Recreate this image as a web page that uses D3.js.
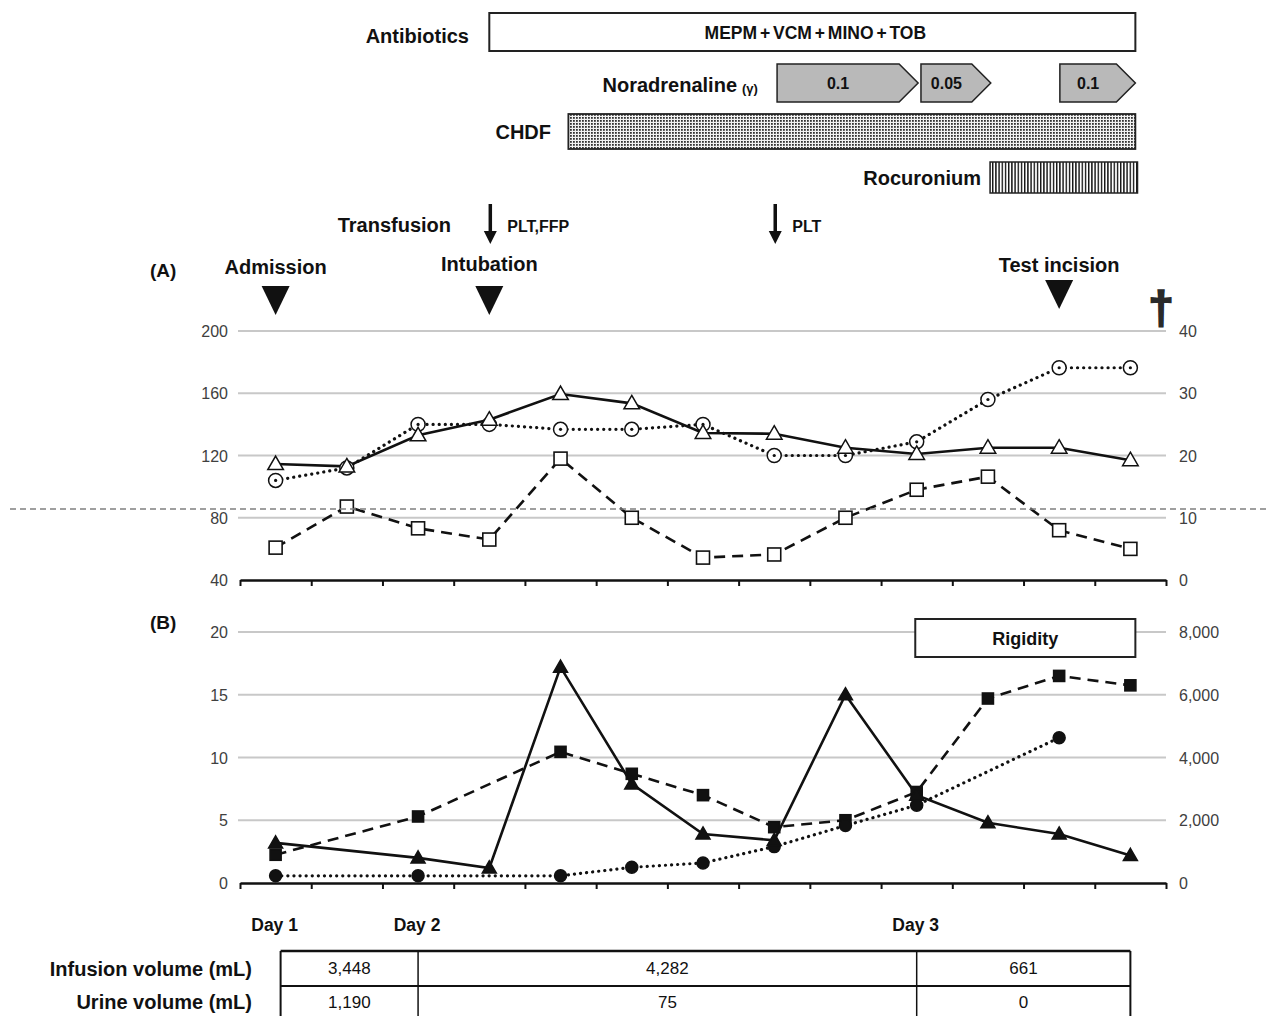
<!DOCTYPE html>
<html>
<head>
<meta charset="utf-8">
<script src="https://cdn.jsdelivr.net/npm/d3@7/dist/d3.min.js"></script>
<style>
body { margin: 0; background: #fff; }
text { font-family: "Liberation Sans", Arial, sans-serif; }
</style>
</head>
<body>
<div id="chart"></div>
<script>
// 13 time points shared by both panels
var timePoints = [0, 1, 2, 3, 4, 5, 6, 7, 8, 9, 10, 11, 12];

// panel (A)
var triA = [114.5, 113, 133, 143, 159.5, 153.5, 134.5, 134, 125, 121, 125, 125, 117];   // left axis
var circA = [16, 18, 25, 25, 24.2, 24.2, 25, 20, 20, 22.2, 29, 34.1, 34.1];            // right axis
var sqA = [5.2, 11.8, 8.3, 6.5, 19.5, 10, 3.6, 4.1, 10, 14.5, 16.6, 8, 5];             // right axis
var leftTicksA = [40, 80, 120, 160, 200];
var rightTicksA = [0, 10, 20, 30, 40];
var refLineA = 85.6;

// panel (B)
var triB = [3.2, null, 2.0, 1.2, 17.2, 7.9, 3.9, 3.4, 15.0, 7.0, 4.8, 3.9, 2.2];        // left axis
var sqB = [900, null, 2120, null, 4180, 3480, 2800, 1780, 2000, 2900, 5880, 6600, 6300]; // right axis
var circB = [230, null, 230, null, 230, 500, 640, 1160, 1830, 2480, null, 4630, null];   // right axis
var leftTicksB = [0, 5, 10, 15, 20];
var rightTicksB = [0, 2000, 4000, 6000, 8000];

// treatment timeline (in time point units)
var antibioticSpan = [3, 12.07];
var antibioticText = "MEPM + VCM + MINO + TOB";
var noradStart = [7.04, 9.06, 11.01];
var noradEnd = [9.02, 10.04, 12.07];
var noradDose = ["0.1", "0.05", "0.1"];
var chdfSpan = [4.11, 12.07];
var rocuroniumSpan = [10.03, 12.1];
var transfusionAt = [3, 7];
var transfusionText = ["PLT,FFP", "PLT"];
var eventAt = [0, 3, 11];
var eventText = ["Admission", "Intubation", "Test incision"];
var eventShift = [0, 0, -6];
var rigiditySpan = [8.98, 12.07];

// days and fluid balance table
var dayAt = [0, 2, 9];
var dayText = ["Day 1", "Day 2", "Day 3"];
var tableEdges = [0.07, 2, 9, 12];
var infusionVol = [3448, 4282, 661];
var urineVol = [1190, 75, 0];

var W = 1266, H = 1016;
var svg = d3.select("#chart").append("svg")
    .attr("width", W)
    .attr("height", H)
    .style("display", "block");

svg.append("rect").attr("width", W).attr("height", H).attr("fill", "#fff");

var x = d3.scaleLinear().domain([-0.5, 12.5]).range([240, 1166]);
var yA = d3.scaleLinear().domain([40, 200]).range([580, 331]);
var yAr = d3.scaleLinear().domain([0, 40]).range([580, 331]);
var yB = d3.scaleLinear().domain([0, 20]).range([883, 632]);
var yBr = d3.scaleLinear().domain([0, 8000]).range([883, 632]);

// patterns
var defs = svg.append("defs");
var dots = defs.append("pattern").attr("id", "dots")
    .attr("width", 3).attr("height", 3).attr("patternUnits", "userSpaceOnUse");
dots.append("rect").attr("width", 3).attr("height", 3).attr("fill", "#f2f2f2");
dots.append("rect").attr("width", 1.8).attr("height", 1.8).attr("fill", "#333");
var stripes = defs.append("pattern").attr("id", "stripes")
    .attr("width", 3.2).attr("height", 4).attr("patternUnits", "userSpaceOnUse");
stripes.append("rect").attr("width", 3.2).attr("height", 4).attr("fill", "#fff");
stripes.append("rect").attr("width", 1.4).attr("height", 4).attr("fill", "#111");

function boldText(tx, ty, str, size, anchor) {
    return svg.append("text")
        .attr("x", tx)
        .attr("y", ty)
        .attr("text-anchor", anchor || "start")
        .attr("font-size", size + "px")
        .attr("font-weight", "bold")
        .attr("fill", "#111")
        .text(str);
}

// ---- timeline on top ----
boldText(469, 43, "Antibiotics", 20, "end");
svg.append("rect")
    .attr("x", x(antibioticSpan[0]))
    .attr("y", 13)
    .attr("width", x(antibioticSpan[1]) - x(antibioticSpan[0]))
    .attr("height", 38)
    .attr("fill", "#fff")
    .attr("stroke", "#222")
    .attr("stroke-width", 2);
boldText((x(antibioticSpan[0]) + x(antibioticSpan[1])) / 2 + 3, 39, antibioticText, 17.5, "middle")
    .attr("word-spacing", "-2px");

boldText(737, 92, "Noradrenaline", 20, "end");
boldText(742, 93, "(γ)", 13, "start");
var head = 19;
noradStart.forEach(function(s, i) {
    var x0 = x(s), x1 = x(noradEnd[i]);
    var y0 = 64, y1 = 102, ym = (y0 + y1) / 2;
    svg.append("polygon")
        .attr("points", [[x0, y0], [x1 - head, y0], [x1, ym], [x1 - head, y1], [x0, y1]].join(" "))
        .attr("fill", "#b9b9b9")
        .attr("stroke", "#222")
        .attr("stroke-width", 1.5);
    boldText((x0 + x1 - head) / 2, 89, noradDose[i], 16, "middle");
});

boldText(551, 139, "CHDF", 20, "end");
svg.append("rect")
    .attr("x", x(chdfSpan[0]))
    .attr("y", 114)
    .attr("width", x(chdfSpan[1]) - x(chdfSpan[0]))
    .attr("height", 35)
    .attr("fill", "url(#dots)")
    .attr("stroke", "#222")
    .attr("stroke-width", 1.8);

boldText(981, 185, "Rocuronium", 20, "end");
svg.append("rect")
    .attr("x", x(rocuroniumSpan[0]))
    .attr("y", 162)
    .attr("width", x(rocuroniumSpan[1]) - x(rocuroniumSpan[0]))
    .attr("height", 31)
    .attr("fill", "url(#stripes)")
    .attr("stroke", "#222")
    .attr("stroke-width", 1.5);

// transfusion arrows
boldText(451, 232, "Transfusion", 20, "end");
transfusionAt.forEach(function(t, i) {
    var ax = x(t) + 1;
    svg.append("line")
        .attr("x1", ax).attr("x2", ax)
        .attr("y1", 204).attr("y2", 233)
        .attr("stroke", "#111")
        .attr("stroke-width", 3.5);
    svg.append("polygon")
        .attr("points", [[ax - 6.5, 231], [ax + 6.5, 231], [ax, 244]].join(" "))
        .attr("fill", "#111");
    boldText(ax + 17, 232, transfusionText[i], 16, "start");
});

// events
boldText(150, 277, "(A)", 19, "start");
eventAt.forEach(function(t, i) {
    var ex = x(t);
    var dy = eventShift[i];
    boldText(ex, 274 + (i == 1 ? -3.5 : 0) + (i == 2 ? -2.5 : 0), eventText[i], 20, "middle");
    svg.append("polygon")
        .attr("points", [[ex - 14, 286 + dy], [ex + 14, 286 + dy], [ex, 315 + dy]].join(" "))
        .attr("fill", "#111");
});

// dagger
svg.append("text")
    .attr("x", 1161)
    .attr("y", 324)
    .attr("text-anchor", "middle")
    .attr("font-size", "46px")
    .attr("font-weight", "bold")
    .attr("font-family", "DejaVu Sans")
    .attr("fill", "#2a2a2a")
    .attr("stroke", "#2a2a2a")
    .attr("stroke-width", 1.6)
    .text("†");

// ---- panel helpers ----
function grid(yScale, ticks, baseVal) {
    svg.append("g").selectAll("line")
        .data(ticks.filter(function(d) { return d != baseVal; }))
        .enter()
        .append("line")
        .attr("x1", 238)
        .attr("x2", 1166)
        .attr("y1", function(d) { return yScale(d); })
        .attr("y2", function(d) { return yScale(d); })
        .attr("stroke", "#c8c8c8")
        .attr("stroke-width", 2);
}

function axes(yLeft, leftTicks, yRight, rightTicks, rightFmt, baseY) {
    var gl = svg.append("g")
        .attr("transform", "translate(228,0)")
        .call(d3.axisLeft(yLeft).tickValues(leftTicks).tickSize(0).tickPadding(0));
    var gr = svg.append("g")
        .attr("transform", "translate(1179,0)")
        .call(d3.axisRight(yRight).tickValues(rightTicks).tickSize(0).tickPadding(0).tickFormat(rightFmt));
    [gl, gr].forEach(function(g) {
        g.select(".domain").remove();
        g.selectAll("text")
            .attr("font-family", "Liberation Sans, Arial, sans-serif")
            .attr("font-size", "16px")
            .attr("fill", "#404040")
            .attr("dy", "0.35em");
    });
    var gx = svg.append("g")
        .attr("transform", "translate(0," + baseY + ")")
        .call(d3.axisBottom(x).tickValues(d3.range(-0.5, 12.6, 1)).tickFormat("").tickSize(6).tickSizeOuter(0));
    gx.select(".domain").attr("stroke", "#111").attr("stroke-width", 2.5);
    gx.selectAll(".tick line").attr("stroke", "#111").attr("stroke-width", 2);
}

function series(values, yScale, dash, cap) {
    var pts = timePoints
        .map(function(t, i) { return [t, values[i]]; })
        .filter(function(p) { return p[1] != null; });
    svg.append("path")
        .datum(pts)
        .attr("d", d3.line()
            .x(function(p) { return x(p[0]); })
            .y(function(p) { return yScale(p[1]); }))
        .attr("fill", "none")
        .attr("stroke", "#111")
        .attr("stroke-width", cap ? 3.2 : 2.6)
        .attr("stroke-linecap", cap ? "round" : "butt")
        .attr("stroke-dasharray", dash);
    return pts;
}

function triangles(pts, yScale, size, fill) {
    svg.append("g").selectAll("path")
        .data(pts)
        .enter()
        .append("path")
        .attr("transform", function(p) { return "translate(" + x(p[0]) + "," + (yScale(p[1]) + 1) + ")"; })
        .attr("d", d3.symbol().type(d3.symbolTriangle).size(size))
        .attr("fill", fill)
        .attr("stroke", "#111")
        .attr("stroke-width", 1.5);
}

function squares(pts, yScale, s, fill) {
    svg.append("g").selectAll("rect")
        .data(pts)
        .enter()
        .append("rect")
        .attr("x", function(p) { return x(p[0]) - s / 2; })
        .attr("y", function(p) { return yScale(p[1]) - s / 2; })
        .attr("width", s)
        .attr("height", s)
        .attr("fill", fill)
        .attr("stroke", "#111")
        .attr("stroke-width", 1.6);
}

function circles(pts, yScale, r, fill, centerDot) {
    var g = svg.append("g");
    g.selectAll("circle.m")
        .data(pts)
        .enter()
        .append("circle")
        .attr("class", "m")
        .attr("cx", function(p) { return x(p[0]); })
        .attr("cy", function(p) { return yScale(p[1]); })
        .attr("r", r)
        .attr("fill", fill)
        .attr("stroke", "#111")
        .attr("stroke-width", 1.5);
    if (centerDot) {
        g.selectAll("circle.c")
            .data(pts)
            .enter()
            .append("circle")
            .attr("class", "c")
            .attr("cx", function(p) { return x(p[0]); })
            .attr("cy", function(p) { return yScale(p[1]); })
            .attr("r", 1.6)
            .attr("fill", "#111");
    }
}

// ---- panel (A) ----
grid(yA, leftTicksA, 40);
axes(yA, leftTicksA, yAr, rightTicksA, d3.format("d"), 580);

var pSqA = series(sqA, yAr, "11,7", false);
var pCircA = series(circA, yAr, "0.1,6", true);
var pTriA = series(triA, yA, null, false);
squares(pSqA, yAr, 13, "#fff");
circles(pCircA, yAr, 7, "#fff", true);
triangles(pTriA, yA, 105, "#fff");

// grey dashed reference line across the page
svg.append("line")
    .attr("x1", 10).attr("x2", W)
    .attr("y1", yA(refLineA)).attr("y2", yA(refLineA))
    .attr("stroke", "#808080")
    .attr("stroke-width", 1.5)
    .attr("stroke-dasharray", "6,4");

// ---- panel (B) ----
boldText(150, 629, "(B)", 19, "start");
grid(yB, leftTicksB, 0);

// rigidity box
svg.append("rect")
    .attr("x", x(rigiditySpan[0]))
    .attr("y", 619)
    .attr("width", x(rigiditySpan[1]) - x(rigiditySpan[0]))
    .attr("height", 38)
    .attr("fill", "#fff")
    .attr("stroke", "#222")
    .attr("stroke-width", 2);
boldText((x(rigiditySpan[0]) + x(rigiditySpan[1])) / 2, 645, "Rigidity", 18, "middle");

axes(yB, leftTicksB, yBr, rightTicksB, d3.format(","), 883);

var pSqB = series(sqB, yBr, "11,7", false);
var pCircB = series(circB, yBr, "0.1,6", true);
var pTriB = series(triB, yB, null, false);
squares(pSqB, yBr, 11, "#111");
circles(pCircB, yBr, 6, "#111", false);
triangles(pTriB, yB, 85, "#111");

// ---- days ----
dayAt.forEach(function(t, i) {
    boldText(x(t) - 1, 931, dayText[i], 17.5, "middle");
});

// ---- fluid balance table ----
var tx = tableEdges.map(function(t) { return x(t); });
var rowY = [951, 986, 1021];
boldText(252, 976, "Infusion volume (mL)", 20, "end");
boldText(252, 1009, "Urine volume (mL)", 20, "end");

svg.append("g").selectAll("line")
    .data(tx)
    .enter()
    .append("line")
    .attr("x1", function(d) { return d; })
    .attr("x2", function(d) { return d; })
    .attr("y1", rowY[0])
    .attr("y2", rowY[2])
    .attr("stroke", "#111")
    .attr("stroke-width", function(d, i) { return (i == 0 || i == tx.length - 1) ? 2 : 1.5; });
rowY.forEach(function(ry, i) {
    svg.append("line")
        .attr("x1", tx[0]).attr("x2", tx[tx.length - 1])
        .attr("y1", ry).attr("y2", ry)
        .attr("stroke", "#111")
        .attr("stroke-width", i == 0 ? 2.5 : 2);
});
var fmt = d3.format(",");
[infusionVol, urineVol].forEach(function(row, r) {
    row.forEach(function(v, c) {
        boldText((tx[c] + tx[c + 1]) / 2, 974 + r * 34, fmt(v), 17, "middle")
            .attr("font-weight", "normal");
    });
});
</script>
</body>
</html>
